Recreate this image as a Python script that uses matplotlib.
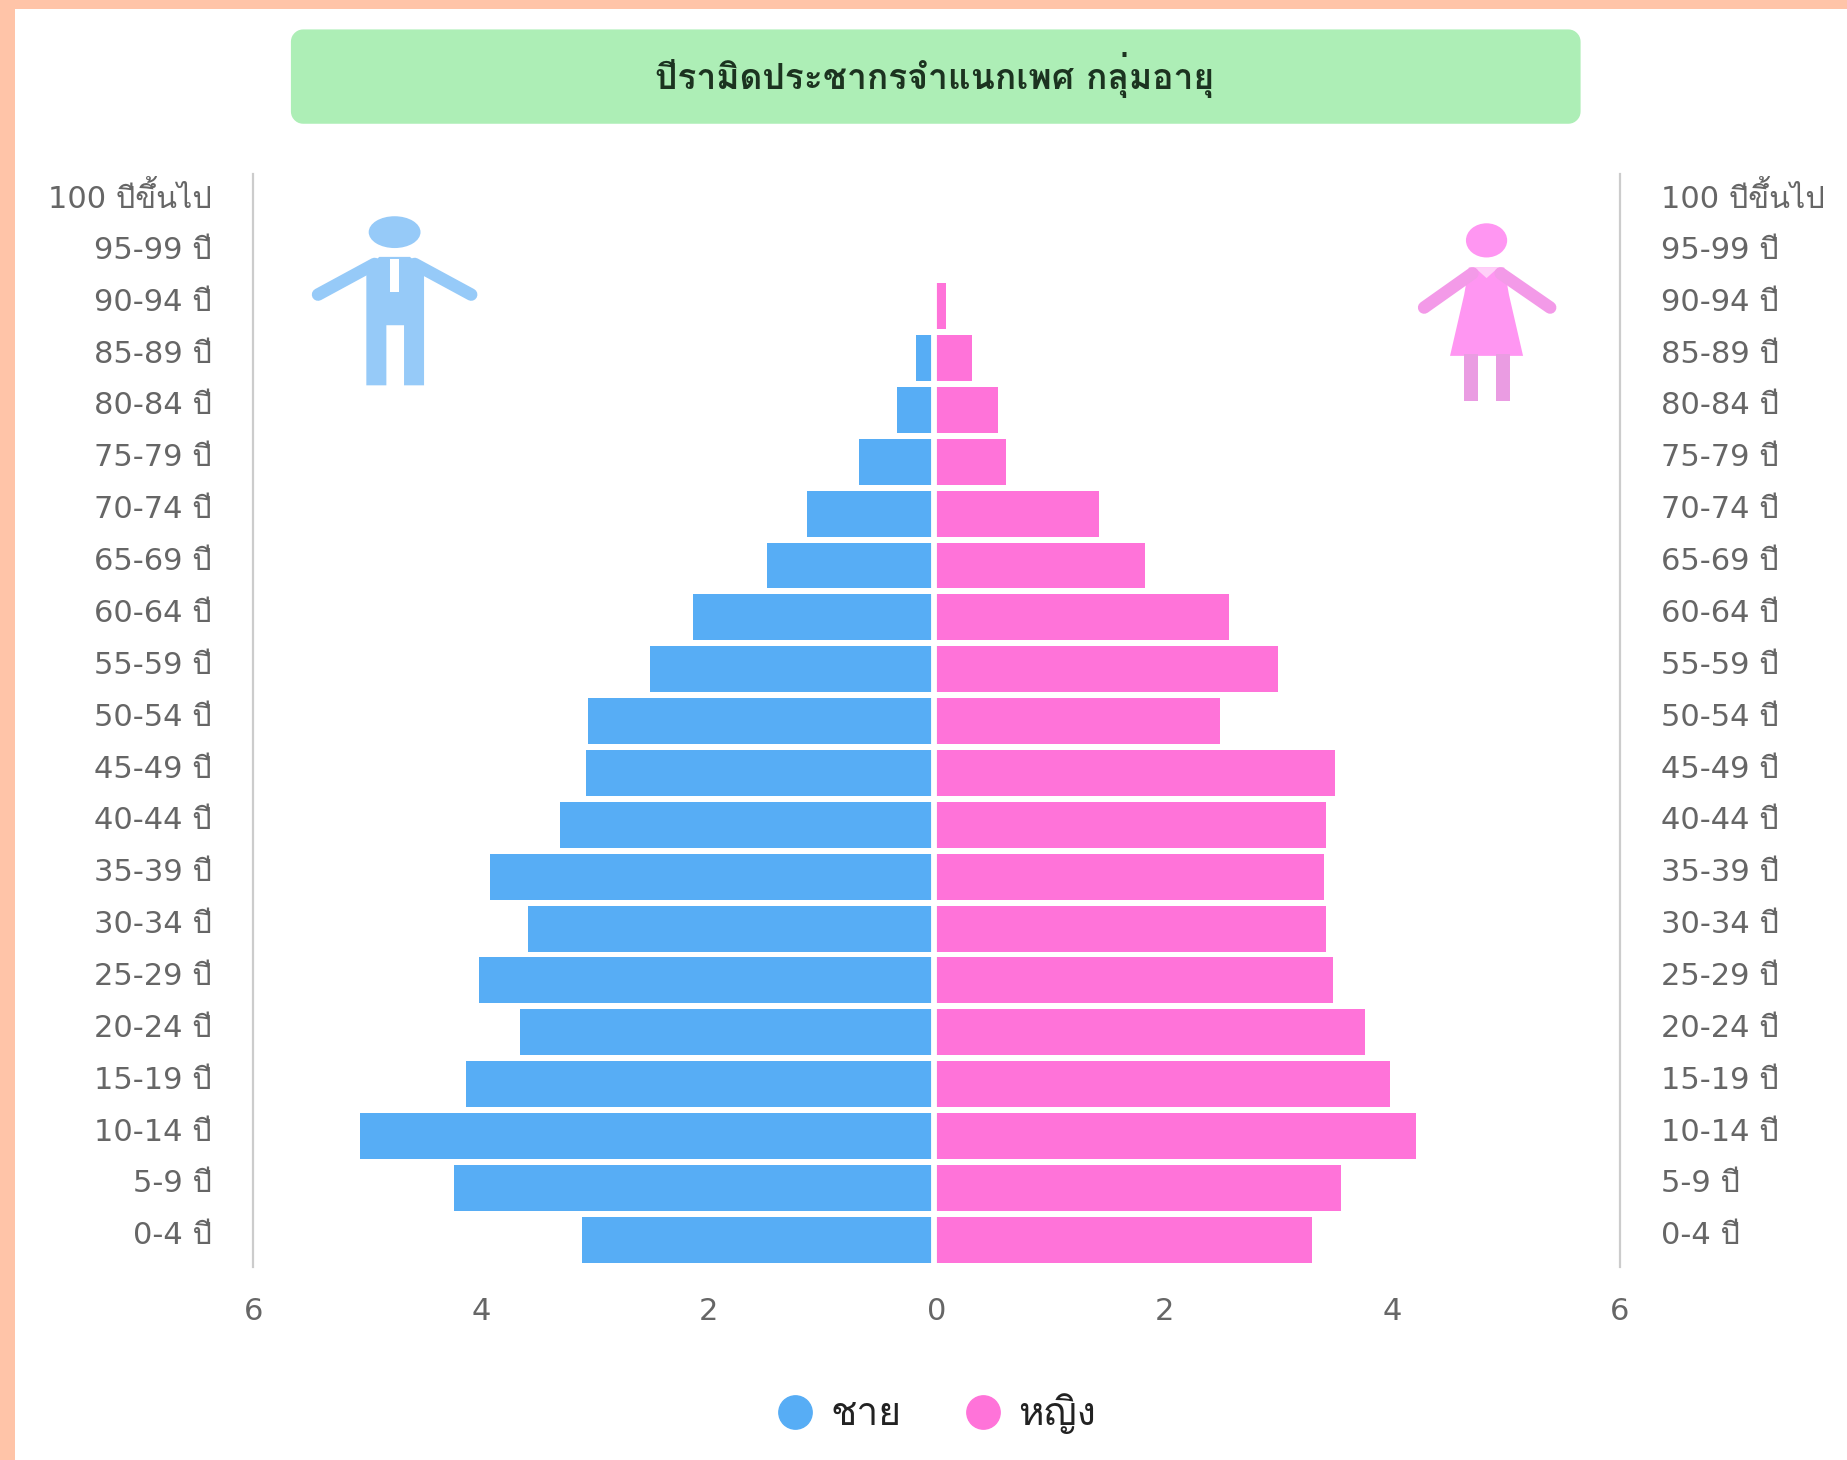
import numpy as np
import matplotlib
matplotlib.use("Agg")
import matplotlib.pyplot as plt
from matplotlib.lines import Line2D
from matplotlib.patches import Ellipse, FancyBboxPatch, Polygon, Rectangle
from matplotlib.transforms import ScaledTranslation

plt.rcParams['font.family'] = ['DejaVu Sans', 'Loma', 'Noto Sans Thai']

# age groups, youngest first
ages = ['0-4 ปี', '5-9 ปี', '10-14 ปี', '15-19 ปี', '20-24 ปี', '25-29 ปี', '30-34 ปี',
        '35-39 ปี', '40-44 ปี', '45-49 ปี', '50-54 ปี', '55-59 ปี', '60-64 ปี', '65-69 ปี',
        '70-74 ปี', '75-79 ปี', '80-84 ปี', '85-89 ปี', '90-94 ปี', '95-99 ปี', '100 ปีขึ้นไป']
male = [3.11, 4.24, 5.06, 4.13, 3.66, 4.02, 3.59, 3.92, 3.31, 3.08, 3.06,
        2.52, 2.14, 1.49, 1.14, 0.68, 0.35, 0.18, 0, 0, 0]
female = [3.30, 3.55, 4.21, 3.98, 3.76, 3.48, 3.42, 3.40, 3.42, 3.50, 2.49,
          3.00, 2.57, 1.83, 1.43, 0.61, 0.54, 0.31, 0.08, 0, 0]
xticks = [-6, -4, -2, 0, 2, 4, 6]

title = 'ปีรามิดประชากรจำแนกเพศ กลุ่มอายุ'
male_label = 'ชาย'
female_label = 'หญิง'

BLUE = '#57adf5'
PINK = '#ff73d9'
GREY = '#666666'

W, H = 1568.0, 1239.0   # layout numbers below are in the shrunk picture's pixels

fig = plt.figure(figsize=(18.47, 14.60), dpi=100, facecolor='#ffc4a8')

# page background, banner and the two figures
bg = fig.add_axes([0, 0, 1, 1], zorder=0)
bg.set_xlim(0, W)
bg.set_ylim(H, 0)
bg.axis('off')
bg.add_patch(Rectangle((13, 8), W, H, fc='white', ec='none'))
bg.add_patch(FancyBboxPatch((256.4, 34.4), 1076, 61.2, boxstyle='round,pad=0,rounding_size=1',
                            fc='#adeeb6', ec='#adeeb6', lw=16, joinstyle='round'))
bg.text(793, 64, title, ha='center', va='center', fontsize=25.5, fontweight='bold', color='#1c3320',
        family=['Loma', 'Noto Sans Thai'])

# man
MAN = '#96caf8'
bg.add_patch(Ellipse((335, 197), 44, 27, fc=MAN, ec='none'))
bg.add_patch(Polygon([(322, 218), (348, 218), (360, 228), (360, 327), (343, 327), (343, 276),
                      (328, 276), (328, 327), (311, 327), (311, 228)], closed=True, fc=MAN, ec='none'))
bg.plot([318, 270], [224, 250], color=MAN, lw=9, solid_capstyle='round')
bg.plot([352, 400], [224, 250], color=MAN, lw=9, solid_capstyle='round')
bg.add_patch(Polygon([(331, 220), (339, 220), (339, 248), (331, 248)], closed=True, fc='white', ec='none'))

# woman
WOMAN = '#ff96f2'
bg.add_patch(Ellipse((1262, 204), 35, 29, fc=WOMAN, ec='none'))
bg.add_patch(Polygon([(1247, 227), (1277, 227), (1281, 250), (1293, 302), (1231, 302), (1243, 250)],
                     closed=True, fc=WOMAN, ec='none'))
bg.plot([1250, 1209], [232, 261], color='#f39ae8', lw=9, solid_capstyle='round')
bg.plot([1274, 1316], [232, 261], color='#f39ae8', lw=9, solid_capstyle='round')
bg.add_patch(Rectangle((1243, 300), 12, 40, fc='#ea9ce2', ec='none'))
bg.add_patch(Rectangle((1270, 300), 12, 40, fc='#ea9ce2', ec='none'))
bg.add_patch(Polygon([(1252, 227), (1272, 227), (1262, 236)], closed=True, fc='#ffd0f8', ec='none'))

# pyramid
ax = fig.add_axes([215 / W, 1 - 1075 / H, (1375 - 215) / W, (1075 - 148) / H], zorder=1)
ax.patch.set_alpha(0)
y = np.arange(len(ages))
ax.barh(y, -np.array(male), height=0.885, color=BLUE, zorder=2)
ax.barh(y, female, height=0.885, color=PINK, zorder=2)
ax.axvline(-0.02, color='white', lw=4.2, zorder=3)
ax.set_xlim(-6, 6)
ax.set_ylim(-0.52, len(ages) - 0.46)
ax.set_xticks(xticks)
ax.set_xticklabels([str(abs(v)) for v in xticks])
ax.set_yticks(y)
ax.set_yticklabels(ages)
ax.tick_params(axis='both', length=0, labelsize=22, labelcolor=GREY)
ax.tick_params(axis='x', pad=22)
ax.tick_params(axis='y', pad=30)
for s in ['top', 'bottom']:
    ax.spines[s].set_visible(False)
for s in ['left', 'right']:
    ax.spines[s].set_color('#cccccc')
    ax.spines[s].set_linewidth(1.6)

ax2 = ax.twinx()
ax2.set_ylim(ax.get_ylim())
ax2.set_yticks(y)
ax2.set_yticklabels(ages)
ax2.tick_params(axis='y', length=0, labelsize=22, labelcolor=GREY, pad=30)
for s in ax2.spines.values():
    s.set_visible(False)

# the age labels sit a little above the middle of their bars
up = ScaledTranslation(0, 5 / 72, fig.dpi_scale_trans)
for lab in ax.get_yticklabels() + ax2.get_yticklabels():
    lab.set_transform(lab.get_transform() + up)

handles = [Line2D([], [], ls='', marker='o', ms=24, color=BLUE, mec=BLUE, label=male_label),
           Line2D([], [], ls='', marker='o', ms=24, color=PINK, mec=PINK, label=female_label)]
fig.legend(handles=handles, loc='center', bbox_to_anchor=(793 / W, 1 - 1200 / H), ncol=2, frameon=False,
           prop={'family': ['Loma', 'Noto Sans Thai'], 'size': 28}, labelcolor='#222222',
           handletextpad=0.3, columnspacing=1.5, handlelength=1.2)

fig.savefig('out.png', dpi=100, facecolor=fig.get_facecolor())
